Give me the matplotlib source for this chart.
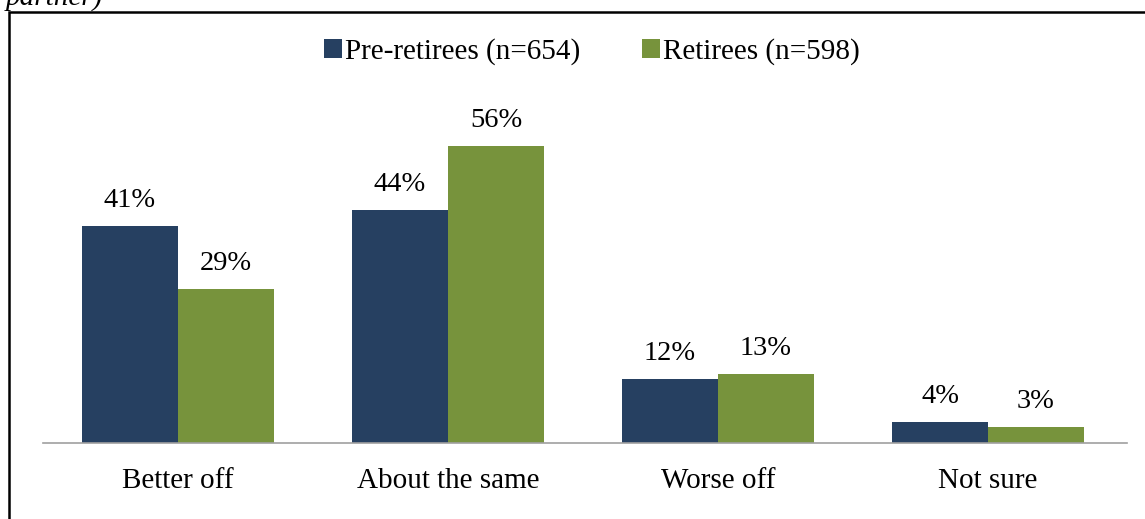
import numpy as np
import matplotlib.pyplot as plt
from matplotlib.patches import Rectangle

categories = ["Better off", "About the same", "Worse off", "Not sure"]
pre_retirees = [41, 44, 12, 4]
retirees = [29, 56, 13, 3]
series_names = ["Pre-retirees (n=654)", "Retirees (n=598)"]

plt.rcParams["font.family"] = ["Liberation Serif", "DejaVu Serif"]

fig = plt.figure(figsize=(11.45, 5.19), dpi=100)
ax = fig.add_axes([43 / 1145, 76 / 519, 1084 / 1145, 424 / 519])

x = np.arange(len(categories))
w = 96 / 270
b1 = ax.bar(x - w / 2, pre_retirees, w, color="#264061", label=series_names[0])
b2 = ax.bar(x + w / 2, retirees, w, color="#77933C", label=series_names[1])

for bars, vals in [(b1, pre_retirees), (b2, retirees)]:
    for bar, v in zip(bars, vals):
        ax.annotate(f"{v}%", (bar.get_x() + bar.get_width() / 2, v),
                    xytext=(0, 9.5), textcoords="offset points",
                    ha="center", va="bottom", fontsize=20.5)

ax.set_xlim(-0.5, len(categories) - 0.5 + 4 / 270)
ax.set_ylim(0, 80)
ax.set_xticks(x)
ax.set_xticklabels(categories, fontsize=21)
ax.tick_params(axis="x", length=0, pad=18)
ax.set_yticks([])
for s in ["top", "right", "left"]:
    ax.spines[s].set_visible(False)
ax.spines["bottom"].set_color("#A0A0A0")
ax.spines["bottom"].set_linewidth(1.2)

ax.legend(loc="center", bbox_to_anchor=(592 / 1145, 1 - 52 / 519),
          bbox_transform=fig.transFigure, ncol=2, frameon=False,
          fontsize=21, handlelength=0.62, handleheight=0.62,
          handletextpad=0.1, columnspacing=2.1)

# outer frame (only top and left edges visible)
fig.patches.append(Rectangle((9 / 1145, -0.1), 1.2, 1.1 - 11.5 / 519,
                             transform=fig.transFigure, fill=False,
                             edgecolor="black", linewidth=1.8))
fig.text(6 / 1145, 1 - 5 / 519, "partner)", style="italic", fontsize=21,
         ha="left", va="baseline")

fig.savefig("out.png", dpi=100)
